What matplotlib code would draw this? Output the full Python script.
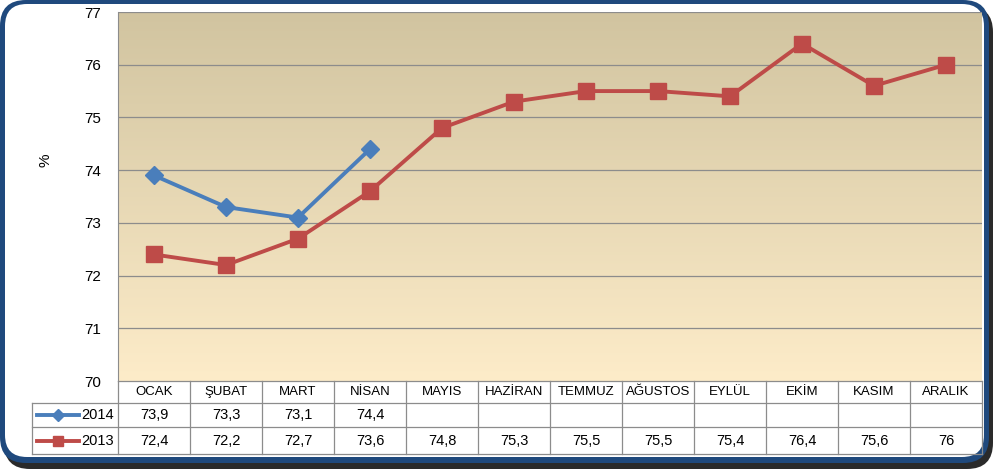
import matplotlib
matplotlib.use("Agg")
import matplotlib.pyplot as plt
import numpy as np
from matplotlib.patches import FancyBboxPatch
from matplotlib.lines import Line2D
from matplotlib.transforms import IdentityTransform
from matplotlib.colors import LinearSegmentedColormap

# data
months = ["OCAK", "ŞUBAT", "MART", "NİSAN", "MAYIS", "HAZİRAN", "TEMMUZ",
          "AĞUSTOS", "EYLÜL", "EKİM", "KASIM", "ARALIK"]
v2014 = [73.9, 73.3, 73.1, 74.4]
v2013 = [72.4, 72.2, 72.7, 73.6, 74.8, 75.3, 75.5, 75.5, 75.4, 76.4, 75.6, 76.0]
yticks = [70, 71, 72, 73, 74, 75, 76, 77]

W, H = 993, 469
blue = "#4a7ebb"
red = "#be4b48"
grid_col = "#8c8c8c"

plt.rcParams['font.family'] = ['Liberation Sans', 'DejaVu Sans']

fig = plt.figure(figsize=(W / 100, H / 100), dpi=100)
fig.patch.set_facecolor("white")

# frame (pixel coords, origin bottom-left)
idt = IdentityTransform()
fig.patches.append(FancyBboxPatch((4, 0), W - 4, H - 6, boxstyle="round,pad=0,rounding_size=26",
                                  transform=idt, fc="#2a2a2a", ec="none", zorder=0))
fig.patches.append(FancyBboxPatch((0, 6), W - 4, H - 6, boxstyle="round,pad=0,rounding_size=26",
                                  transform=idt, fc="#1f497d", ec="none", zorder=1))
fig.patches.append(FancyBboxPatch((5, 12), W - 14, H - 16, boxstyle="round,pad=0,rounding_size=22",
                                  transform=idt, fc="white", ec="none", zorder=2))

left, right, top, bottom = 118, 982, 12, 381
ax = fig.add_axes([left / W, 1 - bottom / H, (right - left) / W, (bottom - top) / H])
ax.set_zorder(3)
ax.patch.set_alpha(0)

n = len(months)
x = np.arange(n)
ax.set_xlim(-0.5, n - 0.5)
ax.set_ylim(70, 77)

# gradient background
cmap = LinearSegmentedColormap.from_list("bg", ["#fdecc9", "#d1c4a0"])
grad = np.linspace(0, 1, 256).reshape(-1, 1)
ax.imshow(grad, extent=[-0.5, n - 0.5, 70, 77], origin="lower", aspect="auto",
          cmap=cmap, zorder=0)

for t in yticks[1:]:
    ax.axhline(t, color=grid_col, lw=0.9, zorder=1)

ax.plot(x[:len(v2014)], v2014, color=blue, lw=2.8, marker="D", ms=9,
        mfc=blue, mec=blue, zorder=4, clip_on=False)
ax.plot(x, v2013, color=red, lw=2.8, marker="s", ms=11,
        mfc=red, mec=red, zorder=4, clip_on=False)

ax.set_yticks(yticks)
ax.set_yticklabels([str(t) for t in yticks], fontsize=11)
ax.tick_params(axis="y", length=0, pad=12)
ax.set_xticks([])
for s in ["top", "right", "bottom"]:
    ax.spines[s].set_visible(False)
ax.spines["left"].set_color(grid_col)

def fx(px):
    return px / W
def fy(py):
    return 1 - py / H

fig.text(fx(45), fy(160), "%", rotation=90, ha="center", va="center", fontsize=11, zorder=6)

# table below the plot
cw = (right - left) / n
tab_left = 32
r0, r1, r2, r3 = 381, 403, 427, 454
lc = "#8c8c8c"
def hline(x0, x1, y):
    fig.add_artist(Line2D([fx(x0), fx(x1)], [fy(y), fy(y)], color=lc, lw=0.9, zorder=5))
def vline(xp, y0, y1):
    fig.add_artist(Line2D([fx(xp), fx(xp)], [fy(y0), fy(y1)], color=lc, lw=0.9, zorder=5))

hline(left, right, r0)
hline(tab_left, right, r1)
hline(tab_left, right, r2)
hline(tab_left, right, r3)
vline(tab_left, r1, r3)
for i in range(n + 1):
    vline(left + i * cw, r0, r3)

def fmt(v):
    return f"{v:g}".replace(".", ",")

for i, m in enumerate(months):
    cx = fx(left + (i + 0.5) * cw)
    fig.text(cx, fy((r0 + r1) / 2), m, ha="center", va="center", fontsize=9.5, zorder=6)
    if i < len(v2014):
        fig.text(cx, fy((r1 + r2) / 2), fmt(v2014[i]), ha="center", va="center", fontsize=10.5, zorder=6)
    fig.text(cx, fy((r2 + r3) / 2), fmt(v2013[i]), ha="center", va="center", fontsize=10.5, zorder=6)

# legend keys in the table
for label, col, mk, ms, ya, yb in [("2014", blue, "D", 6, r1, r2), ("2013", red, "s", 7, r2, r3)]:
    yc = fy((ya + yb) / 2)
    fig.add_artist(Line2D([fx(37), fx(79)], [yc, yc], color=col, lw=2.8, zorder=6))
    fig.add_artist(Line2D([fx(58)], [yc], color=col, marker=mk, ms=ms, mec=col, zorder=7))
    fig.text(fx(81), yc, label, ha="left", va="center", fontsize=10.5, zorder=6)

fig.savefig("out.png", dpi=100)
